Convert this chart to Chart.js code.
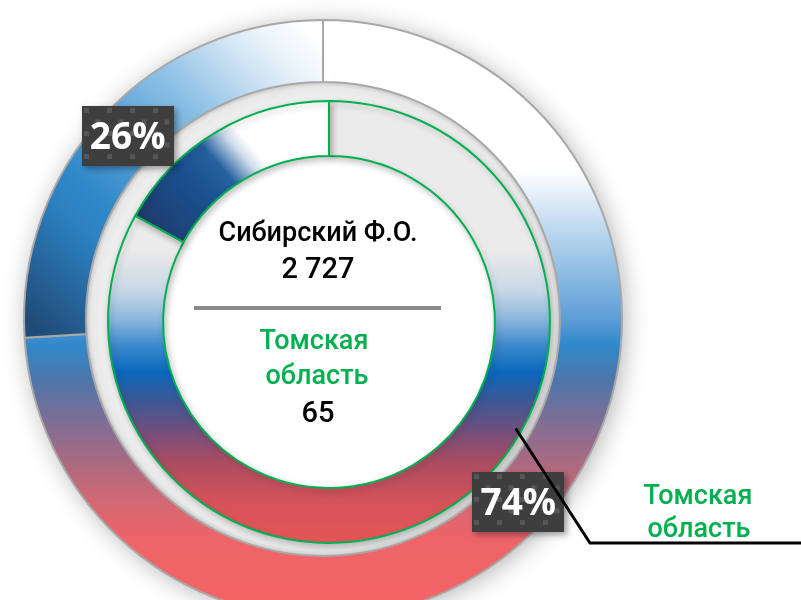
<!DOCTYPE html>
<html>
<head>
<meta charset="utf-8">
<script src="https://cdn.jsdelivr.net/npm/chart.js@4.4.0/dist/chart.umd.min.js"></script>
<style>
  html, body { margin: 0; padding: 0; background: #fff; overflow: hidden; }
  #wrap { position: relative; width: 801px; height: 640px; }
</style>
</head>
<body>
<div id="wrap"><canvas id="ringChart" width="801" height="640"></canvas></div>
<script>
// Chart data

const outerLabels = ['Томская область', 'Остальные'];
const outerValues = [74, 26];
const gapValues = [1];
const innerLabels = ['Сибирский Ф.О.', 'прочее'];
const innerValues = [83, 17];

const centerTitle = 'Сибирский Ф.О.';
const centerTotal = '2 727';
const regionName = ['Томская', 'область'];
const regionValue = '65';

const GREEN = '#00b050';
const FONT = 'Roboto, "Noto Sans", sans-serif';

// the inner ring sits a little right and down from the outer one
const innerShift = { x: 6, y: 3 };

// vertical gradient over the whole chart area, stops given as [fraction, colour]
function vGrad(chart, stops) {
  const area = chart.chartArea;
  const g = chart.ctx.createLinearGradient(0, area.top, 0, area.bottom);
  stops.forEach(s => g.addColorStop(s[0], s[1]));
  return g;
}

// linear gradient between two points given relative to centre, in radius units
function dGrad(chart, p0, p1, stops) {
  const area = chart.chartArea;
  const cx = (area.left + area.right) / 2;
  const cy = (area.top + area.bottom) / 2;
  const r = Math.min(area.width, area.height) / 2;
  const g = chart.ctx.createLinearGradient(cx + p0[0] * r, cy + p0[1] * r, cx + p1[0] * r, cy + p1[1] * r);
  stops.forEach(s => g.addColorStop(s[0], s[1]));
  return g;
}

function outerFill(context) {
  const chart = context.chart;
  if (!chart.chartArea) return '#3088ca';
  if (context.dataIndex === 0) {
    return vGrad(chart, [
      [0, '#ffffff'], [0.252, '#ffffff'], [0.335, '#c8def1'], [0.418, '#90bfe4'],
      [0.502, '#5c9cd6'], [0.543, '#3088ca'], [0.602, '#4e76aa'], [0.668, '#7d6e96'],
      [0.735, '#a86a82'], [0.802, '#d26874'], [0.868, '#ee6468'], [1, '#f46464']
    ]);
  }
  return dGrad(chart, [-0.946, 0.037], [-0.01, -0.933], [
    [0, '#1f4b78'], [0.07, '#245a8c'], [0.25, '#2b80c0'], [0.34, '#3189c9'],
    [0.5, '#5aa2d8'], [0.67, '#8ec1e6'], [0.79, '#c2dcf0'], [0.91, '#ecf4fb'], [1, '#ffffff']
  ]);
}

function innerFill(context) {
  const chart = context.chart;
  if (!chart.chartArea) return '#ebebeb';
  if (context.dataIndex === 0) {
    return vGrad(chart, [
      [0, '#ebebeb'], [0.38, '#ebebeb'], [0.447, '#c9d8e6'], [0.497, '#8ab6dd'],
      [0.538, '#3d8ace'], [0.583, '#0a68bd'], [0.63, '#3b5895'], [0.68, '#6f4f7d'],
      [0.73, '#a84c62'], [0.797, '#d4525a'], [0.863, '#e45657'], [1, '#e45657']
    ]);
  }
  return dGrad(chart, [-0.632, -0.324], [-0.231, -0.676], [
    [0, '#1f3a6c'], [0.43, '#1a5190'], [0.62, '#25609f'], [0.7, '#7fa3c8'],
    [0.77, '#cfdceb'], [0.85, '#ffffff'], [1, '#ffffff']
  ]);
}

// shadow round the outer ring, grey band between the rings, white hole
const ringBack = {
  id: 'ringBack',
  beforeDatasetsDraw(chart) {
    const outer = chart.getDatasetMeta(0).data[0];
    const inner = chart.getDatasetMeta(2).data[0];
    const ctx = chart.ctx;
    ctx.save();
    ctx.shadowColor = 'rgba(0,0,0,0.3)';
    ctx.shadowBlur = 24;
    ctx.shadowOffsetX = 3;
    ctx.shadowOffsetY = 3;
    ctx.fillStyle = '#fff';
    ctx.beginPath();
    ctx.arc(outer.x, outer.y, outer.outerRadius, 0, Math.PI * 2);
    ctx.fill();
    ctx.restore();

    const r0 = inner.outerRadius - 10, r1 = outer.innerRadius;
    const g = ctx.createRadialGradient(outer.x, outer.y, r0, outer.x, outer.y, r1);
    g.addColorStop(0, '#e6e6e6');
    g.addColorStop(0.45, '#eeeeee');
    g.addColorStop(0.8, '#e8e8e8');
    g.addColorStop(1, '#c9c9c9');
    ctx.fillStyle = g;
    ctx.beginPath();
    ctx.arc(outer.x, outer.y, r1, 0, Math.PI * 2);
    ctx.fill();

    ctx.fillStyle = '#fff';
    ctx.beginPath();
    ctx.arc(inner.x + innerShift.x, inner.y + innerShift.y, inner.innerRadius, 0, Math.PI * 2);
    ctx.fill();
  },
  beforeDatasetDraw(chart, args) {
    if (args.index !== 2) return;
    const ctx = chart.ctx;
    ctx.save();
    ctx.translate(innerShift.x, innerShift.y);
    ctx.shadowColor = 'rgba(0,0,0,0.22)';
    ctx.shadowBlur = 6;
    ctx.shadowOffsetX = 2;
    ctx.shadowOffsetY = 3;
  },
  afterDatasetDraw(chart, args) {
    if (args.index === 2) chart.ctx.restore();
  }
};

// dark percentage boxes, centre texts and the pointer
const ringText = {
  id: 'ringText',
  afterDatasetsDraw(chart) {
    const ctx = chart.ctx;
    const meta = chart.getDatasetMeta(0);
    const total = outerValues.reduce((a, b) => a + b, 0);
    const cx = meta.data[0].x;
    const cy = meta.data[0].y;

    meta.data.forEach((arc, i) => {
      const pos = arc.tooltipPosition();
      const w = 92, h = 60;
      const x0 = Math.round(pos.x - w / 2), y0 = Math.round(pos.y - h / 2);
      ctx.save();
      ctx.shadowColor = 'rgba(0,0,0,0.35)';
      ctx.shadowBlur = 6;
      ctx.shadowOffsetX = 3;
      ctx.shadowOffsetY = 3;
      ctx.fillStyle = '#3e3e3e';
      ctx.fillRect(x0, y0, w, h);
      ctx.restore();
      // small checker squares
      ctx.fillStyle = 'rgba(255,255,255,0.13)';
      for (let j = 0; j * 11.5 < h - 4; j++) {
        for (let k = 0; k * 11.5 < w - 4; k++) {
          if ((j + k) % 2 === 0) ctx.fillRect(x0 + 2 + k * 11.5, y0 + 2 + j * 11.5, 5, 5);
        }
      }
      ctx.fillStyle = '#ffffff';
      ctx.font = 'bold 37px "Open Sans", sans-serif';
      ctx.textAlign = 'center';
      ctx.textBaseline = 'alphabetic';
      ctx.fillText(Math.round(outerValues[i] / total * 100) + '%', pos.x, y0 + h / 2 + 13);
    });

    // pointer from the inner ring to the label on the right
    const inner = chart.getDatasetMeta(2).data[0];
    const a = 119.7 * Math.PI / 180;
    const r = inner.outerRadius - 6;
    ctx.save();
    ctx.strokeStyle = '#000';
    ctx.lineWidth = 3;
    ctx.beginPath();
    ctx.moveTo(cx + innerShift.x + r * Math.sin(a), cy + innerShift.y - r * Math.cos(a));
    ctx.lineTo(590, 543);
    ctx.lineTo(801, 543);
    ctx.stroke();
    ctx.restore();

    ctx.textAlign = 'center';
    ctx.fillStyle = GREEN;
    ctx.font = '500 27px ' + FONT;
    ctx.fillText(regionName[0], 698, 504);
    ctx.fillText(regionName[1], 699, 537);

    // centre
    const tx = cx - 5;
    ctx.fillStyle = '#000';
    ctx.font = '500 27px ' + FONT;
    ctx.fillText(centerTitle, tx, 241);
    ctx.font = '500 29px ' + FONT;
    ctx.fillText(centerTotal, tx, 278);

    ctx.fillStyle = '#8a8a8a';
    ctx.fillRect(194, 306, 247, 4);

    ctx.fillStyle = GREEN;
    ctx.font = '500 27px ' + FONT;
    ctx.fillText(regionName[0], tx - 4, 349);
    ctx.fillText(regionName[1], tx - 1, 384);
    ctx.fillStyle = '#000';
    ctx.font = '500 29px ' + FONT;
    ctx.fillText(regionValue, tx, 422);
  }
};

const ctx = document.getElementById('ringChart').getContext('2d');

const ringChart = new Chart(ctx, {
  type: 'doughnut',
  data: {
    labels: outerLabels,
    datasets: [
      {
        data: outerValues,
        weight: 62,
        backgroundColor: outerFill,
        borderColor: '#a8a8a8',
        borderWidth: 2
      },
      {
        // spacer between the rings, its grey is painted by ringBack
        data: gapValues,
        weight: 16,
        backgroundColor: 'rgba(0,0,0,0)',
        borderWidth: 0
      },
      {
        labels: innerLabels,
        data: innerValues,
        weight: 55,
        backgroundColor: innerFill,
        borderColor: GREEN,
        borderWidth: 2
      }
    ]
  },
  options: {
    responsive: false,
    animation: false,
    cutout: '55.5%',
    layout: { padding: { left: 23, right: 178, top: 19, bottom: 21 } },
    plugins: {
      legend: { display: false },
      tooltip: { enabled: false }
    }
  },
  plugins: [ringBack, ringText]
});
</script>
</body>
</html>
